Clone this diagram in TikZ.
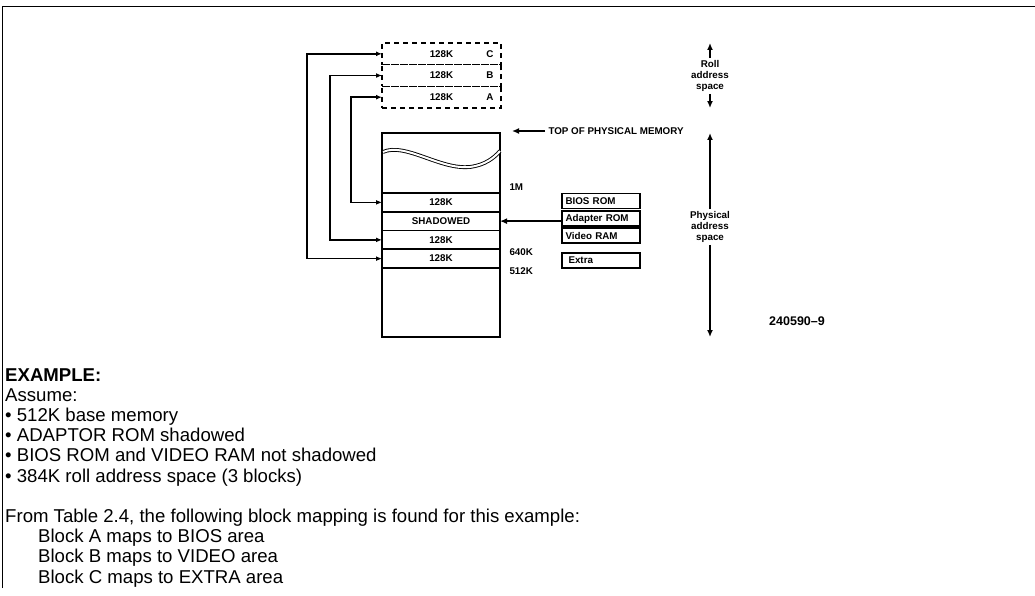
\documentclass[tikz,border=0pt]{standalone}
\usepackage{fontspec}
\setmainfont{Liberation Sans}
\usetikzlibrary{arrows.meta,positioning}
\begin{document}
\begin{tikzpicture}[x=1pt,y=-1pt,
    lbl/.style={font=\fontsize{9.8}{11}\selectfont\bfseries},
    rollbox/.style={draw,dash pattern=on 5pt off 4pt,line width=1.6pt,minimum width=119pt,minimum height=21.67pt,inner sep=0pt,outer sep=0pt,lbl},
    memrow/.style={draw,line width=1.6pt,minimum width=118pt,minimum height=18.75pt,inner sep=0pt,outer sep=0pt,lbl},
    rombox/.style={draw,line width=1.6pt,minimum width=78pt,minimum height=15pt,text width=71pt,align=left,inner xsep=3.5pt,inner ysep=2pt,outer sep=0pt,lbl},
    link/.style={line width=1.6pt,{Latex[length=6pt,width=5pt]}-{Latex[length=6pt,width=5pt]}},
    arr/.style={line width=1.6pt,-{Latex[length=7pt,width=6pt]}},
    txt/.style={font=\fontsize{18.6}{20.2}\selectfont,align=left,inner sep=0pt}]
    \useasboundingbox (0,0) rectangle (1035,596);
    % frame
    \draw[line width=0.8pt] (2,588) -- (2,6) -- (1035,6);
    % roll address space
    \foreach \name/\id [count=\i] in {rollC/C,rollB/B,rollA/A} {
        \node[rollbox] (\name) at (441.5,{43+21.67*(\i-0.5)}) {128K};
        \node[lbl,anchor=east] (\name-id) at ([xshift=-4pt]\name.east) {\id};
    }
    % physical memory
    \node[draw,line width=1.6pt,minimum width=118pt,minimum height=204pt,inner sep=0pt,outer sep=0pt] (mem) at (441,235) {};
    \draw[line width=0.9pt,double,double distance=2pt] (383,152) .. controls (405,142) and (440,170) .. (470,167) .. controls (485,165) and (494,158) .. (500,151);
    \foreach \name/\txt [count=\i] in {bios/128K,shadow/SHADOWED,video/128K,extra/128K}
        \node[memrow] (\name) at (441,{193+18.75*(\i-0.5)}) {\txt};
    \node[lbl,anchor=west] (lbl1M) at (506,187) {1M};
    \node[lbl,anchor=west] (lbl640) at (506,252) {640K};
    \node[lbl,anchor=west] (lbl512) at (506,271) {512K};
    % roll blocks to memory
    \draw[link] (extra.west) -- ++(-75,0) |- (rollC.west);
    \draw[link] (video.west) -- ++(-52,0) |- (rollB.west);
    \draw[link] (bios.west) -- ++(-31,0) |- (rollA.west);
    % top of memory
    \node[lbl,anchor=west] (toptext) at (545,131) {TOP OF PHYSICAL MEMORY};
    \coordinate (toptip) at (512,131);
    \draw[arr] (toptext.west) -- (toptip);
    % rom areas
    \foreach \name/\txt/\y in {romBios/BIOS ROM/201,romAdapter/Adapter ROM/218.5,romVideo/Video RAM/235.5,romExtra/\hspace*{3pt}Extra/260.5}
        \node[rombox] (\name) at (601,\y) {\txt};
    \draw[arr] (romAdapter.west |- shadow) -- (shadow.east);
    % address space labels
    \node[lbl,align=center,inner sep=2pt] (rollLbl) at (710,76) {Roll\\address\\space};
    \draw[arr] (rollLbl.north) -- (rollLbl.north |- rollC.north);
    \draw[arr] (rollLbl.south) -- (rollLbl.south |- rollA.south);
    \node[lbl,align=center,inner sep=2pt] (physLbl) at (710,227) {Physical\\address\\space};
    \draw[arr] (physLbl.north) -- (physLbl.north |- mem.north);
    \draw[arr] (physLbl.south) -- (physLbl.south |- mem.south);
    \node[font=\fontsize{12.5}{14}\selectfont\bfseries] (figid) at (797,321) {240590--9};
    % example text
    \node[txt,anchor=north west] (example) at (5,368) {\textbf{EXAMPLE:}\\Assume:\\• 512K base memory\\• ADAPTOR ROM shadowed\\• BIOS ROM and VIDEO RAM not shadowed\\• 384K roll address space (3 blocks)\\[20.2pt]From Table 2.4, the following block mapping is found for this example:\\\hspace*{33pt}Block A maps to BIOS area\\\hspace*{33pt}Block B maps to VIDEO area\\\hspace*{33pt}Block C maps to EXTRA area};
\end{tikzpicture}
\end{document}
